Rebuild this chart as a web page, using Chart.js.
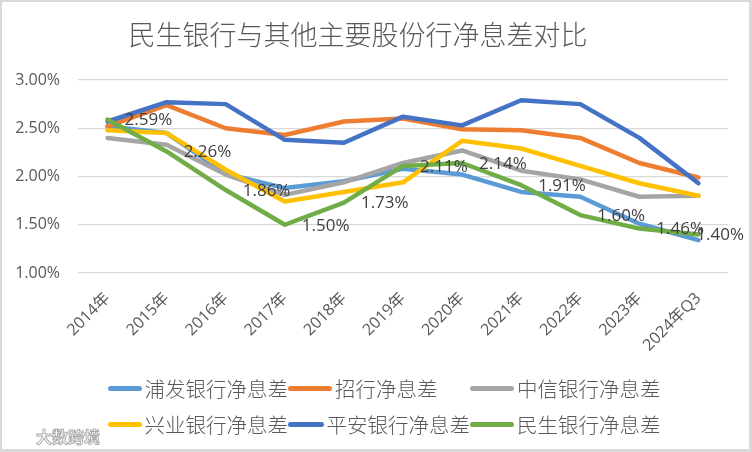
<!DOCTYPE html>
<html>
<head>
<meta charset="utf-8">
<script src="https://cdn.jsdelivr.net/npm/chart.js@4.4.1/dist/chart.umd.min.js"></script>
<style>
  html, body { margin: 0; padding: 0; background: #fff; }
  #wrap { position: relative; width: 752px; height: 452px; background: #fff; overflow: hidden; }
  #frame { position: absolute; left: 0; top: 0; width: 752px; height: 452px; box-sizing: border-box;
           border: 2px solid #d9d9d9; border-right-width: 3px; border-bottom-width: 3px; pointer-events: none; }
  canvas { position: absolute; left: 0; top: 0; }
  #title { position: absolute; left: 0; top: 18px; width: 716px; text-align: center;
           font: 300 27px/32px "Noto Sans CJK SC", sans-serif; color: #595959; }
  #legend { position: absolute; left: 108px; top: 370px; display: grid;
            grid-template-columns: 180px 182px auto; grid-auto-rows: 36px; }
  .item { display: flex; align-items: center; font: 300 20.5px "Noto Sans CJK SC", sans-serif; color: #595959; white-space: nowrap; }
  .swatch { width: 44px; height: 5px; border-radius: 3px; margin-right: 3px; }
  #mark { position: absolute; left: 36px; top: 424px; font: bold 16px "Noto Sans CJK SC", sans-serif;
          color: #fff; -webkit-text-stroke: 0.9px #a8a8a8; }
</style>
</head>
<body>
<div id="wrap">
  <canvas id="chart" width="752" height="452"></canvas>
  <div id="title">民生银行与其他主要股份行净息差对比</div>
  <div id="legend"></div>
  <div id="mark">大数跨境</div>
  <div id="frame"></div>
</div>
<script>
// categories and values (%)
const categories = ["2014年", "2015年", "2016年", "2017年", "2018年", "2019年", "2020年", "2021年", "2022年", "2023年", "2024年Q3"];
const pufa = [2.52, 2.45, 2.03, 1.88, 1.95, 2.08, 2.02, 1.84, 1.79, 1.51, 1.34];
const zhaohang = [2.52, 2.74, 2.50, 2.43, 2.57, 2.60, 2.49, 2.48, 2.40, 2.14, 1.99];
const zhongxin = [2.40, 2.33, 2.02, 1.81, 1.94, 2.14, 2.27, 2.06, 1.97, 1.79, 1.80];
const xingye = [2.48, 2.45, 2.07, 1.74, 1.84, 1.94, 2.37, 2.29, 2.11, 1.93, 1.80];
const pingan = [2.57, 2.77, 2.75, 2.38, 2.35, 2.62, 2.53, 2.79, 2.75, 2.40, 1.93];
const minsheng = [2.59, 2.26, 1.86, 1.50, 1.73, 2.11, 2.14, 1.91, 1.60, 1.46, 1.40];
const yTicks = [1.0, 1.5, 2.0, 2.5, 3.0];

const seriesNames = ["浦发银行净息差", "招行净息差", "中信银行净息差", "兴业银行净息差", "平安银行净息差", "民生银行净息差"];
const seriesData = [pufa, zhaohang, zhongxin, xingye, pingan, minsheng];
const seriesColors = ["#5B9BD5", "#ED7D31", "#A5A5A5", "#FFC000", "#4472C4", "#70AD47"];
const labelled = 5; // only 民生 gets data labels

// legend, laid out like Excel's grid
const legendEl = document.getElementById("legend");
seriesNames.forEach((name, i) => {
  const item = document.createElement("div");
  item.className = "item";
  item.innerHTML = `<span class="swatch" style="background:${seriesColors[i]}"></span>${name}`;
  legendEl.appendChild(item);
});

// draw value labels to the right of each point, kept inside the canvas
const pointLabels = {
  id: "pointLabels",
  afterDatasetsDraw(chart) {
    const meta = chart.getDatasetMeta(labelled);
    const ctx = chart.ctx;
    ctx.save();
    ctx.font = '17px "Open Sans", sans-serif';
    ctx.fillStyle = "#404040";
    ctx.textBaseline = "middle";
    ctx.textAlign = "left";
    meta.data.forEach((pt, i) => {
      const text = seriesData[labelled][i].toFixed(2) + "%";
      const w = ctx.measureText(text).width;
      const x = Math.min(pt.x + 17, chart.width - 8 - w);
      ctx.fillText(text, x, pt.y + 1);
    });
    ctx.restore();
  }
};

new Chart(document.getElementById("chart"), {
  type: "line",
  data: {
    labels: categories,
    datasets: seriesNames.map((name, i) => ({
      label: name,
      data: seriesData[i],
      borderColor: seriesColors[i],
      backgroundColor: seriesColors[i],
      borderWidth: 4.5,
      borderCapStyle: "round",
      borderJoinStyle: "round",
      pointRadius: 0,
      tension: 0,
      order: seriesNames.length - i // later series on top, as in Excel
    }))
  },
  options: {
    responsive: false,
    animation: false,
    layout: { padding: { top: 80, left: 0, right: 24, bottom: 89 } },
    plugins: {
      legend: { display: false },
      title: { display: false },
      tooltip: { enabled: false }
    },
    scales: {
      x: {
        offset: true,
        grid: { display: false },
        border: { display: false },
        ticks: {
          minRotation: 45,
          maxRotation: 45,
          padding: 8,
          color: "#595959",
          font: { family: '"Open Sans", "Noto Sans CJK SC", sans-serif', size: 16 }
        },
        afterFit: (axis) => { axis.height = 90; }
      },
      y: {
        min: 1,
        max: 3,
        afterBuildTicks: (axis) => { axis.ticks = yTicks.map(v => ({ value: v })); },
        grid: { color: "#d9d9d9", lineWidth: 1.3, drawTicks: false },
        border: { display: false },
        ticks: {
          padding: 18,
          color: "#595959",
          font: { family: '"Open Sans", sans-serif', size: 16 },
          callback: (v) => v.toFixed(2) + "%"
        },
        afterFit: (axis) => { axis.width = 78; }
      }
    }
  },
  plugins: [pointLabels]
});
</script>
</body>
</html>
